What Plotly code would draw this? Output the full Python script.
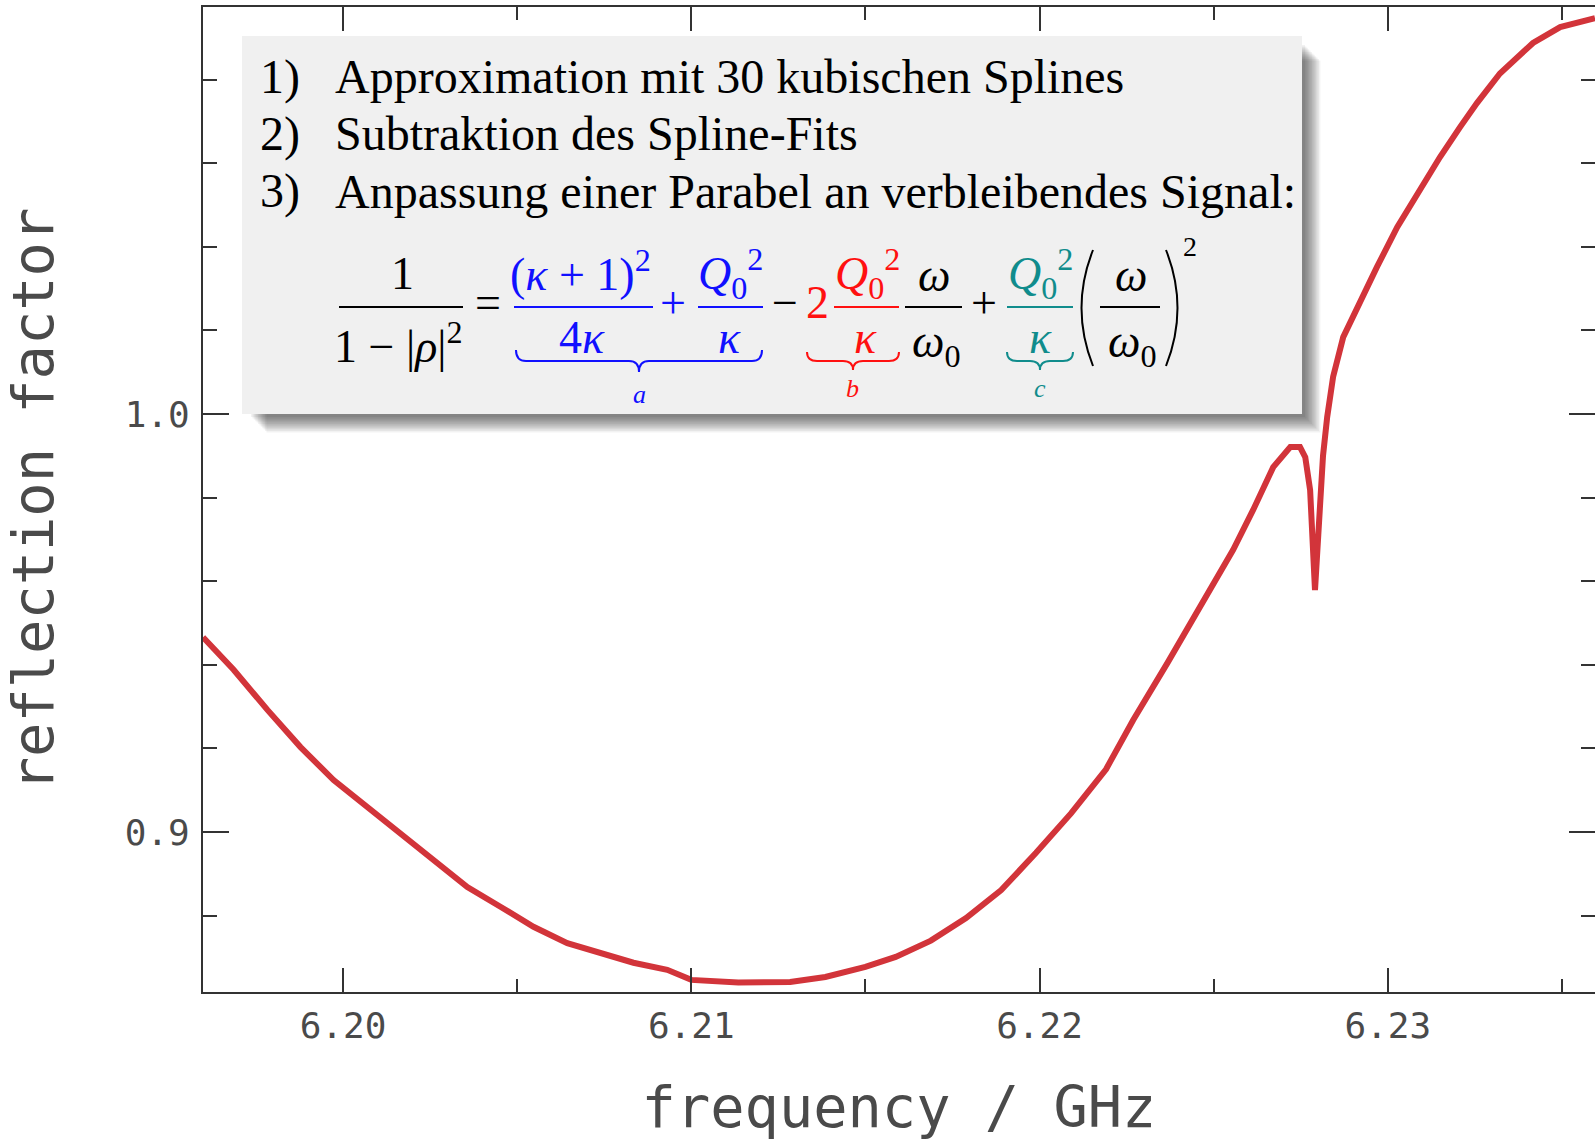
import plotly.graph_objects as go

# ---------------- data ----------------
freq_ghz = [6.19598, 6.19686, 6.19783, 6.19878, 6.19973, 6.20070, 6.20165, 6.20260,
            6.20357, 6.20452, 6.20547, 6.20644, 6.20739, 6.20834, 6.20931, 6.21000,
            6.21135, 6.21284, 6.21385, 6.21500, 6.21587, 6.21688, 6.21789, 6.21890,
            6.21990, 6.22091, 6.22191, 6.22269, 6.22367, 6.22461, 6.22556, 6.22613,
            6.22671, 6.22720, 6.22748, 6.22763, 6.22777, 6.22791, 6.22806, 6.22814,
            6.22826, 6.22843, 6.22872, 6.22921, 6.22969, 6.23027, 6.23084, 6.23150,
            6.23208, 6.23256, 6.23322, 6.23417, 6.23495, 6.23595]
reflection = [0.9466, 0.9388, 0.9292, 0.9203, 0.9124, 0.9060, 0.8998, 0.8933,
              0.8868, 0.8821, 0.8773, 0.8734, 0.8711, 0.8687, 0.8670, 0.8646,
              0.8640, 0.8641, 0.8653, 0.8677, 0.8701, 0.8740, 0.8794, 0.8861,
              0.8950, 0.9045, 0.9150, 0.9268, 0.9404, 0.9538, 0.9675, 0.9770,
              0.9873, 0.9921, 0.9921, 0.9897, 0.9818, 0.9579, 0.9778, 0.9900,
              0.9993, 1.0089, 1.0184, 1.0273, 1.0352, 1.0447, 1.0528, 1.0615,
              1.0687, 1.0744, 1.0815, 1.0888, 1.0926, 1.0947]

x_range = [6.19598, 6.23595]
y_range = [0.8617, 1.0974]
x_tick_step = 0.01
x_minor_step = 0.005
y_tick_step = 0.1
y_minor_step = 0.02

x_title = "frequency / GHz"
y_title = "reflection factor"

steps = ["Approximation mit 30 kubischen Splines",
         "Subtraktion des Spline-Fits",
         "Anpassung einer Parabel an verbleibendes Signal:"]
step_numbers = ["1)", "2)", "3)"]

# ---------------- layout geometry ----------------
FIG_W, FIG_H = 1595, 1140
L, T, R, B = 203, 7, 0, 148
W = FIG_W - L - R
H = FIG_H - T - B

def px(x):
    return (x - L) / W

def py(y):
    return (T + H - y) / H

AX_COLOR = "#333333"
LABEL_COLOR = "#4a4a4a"
MONO = "DejaVu Sans Mono"
SERIF = "Liberation Serif"
BLUE = "#1010ff"
RED = "#ff1010"
TEAL = "#108c8c"

fig = go.Figure()
fig.add_trace(go.Scatter(x=freq_ghz, y=reflection, mode="lines",
                         line=dict(color="#d2343a", width=6),
                         showlegend=False, hoverinfo="skip"))
# empty trace to activate the mirror axes (top ticks / right ticks)
fig.add_trace(go.Scatter(x=[None], y=[None], xaxis="x2", yaxis="y2",
                         showlegend=False, hoverinfo="skip"))

fig.update_layout(
    width=FIG_W, height=FIG_H,
    margin=dict(l=L, r=R, t=T, b=B, pad=0),
    paper_bgcolor="white", plot_bgcolor="white",
    xaxis=dict(range=x_range, dtick=x_tick_step, tick0=6.20, tickformat=".2f",
               showgrid=False, zeroline=False, showline=True, linecolor=AX_COLOR,
               linewidth=2, ticks="inside", ticklen=24, tickwidth=2, tickcolor=AX_COLOR,
               minor=dict(dtick=x_minor_step, tick0=6.20, ticks="inside", ticklen=13,
                          tickwidth=2, tickcolor=AX_COLOR, showgrid=False),
               tickfont=dict(family=MONO, size=36, color=LABEL_COLOR),
               ticklabelstandoff=1,
               title=dict(text=x_title, font=dict(family=MONO, size=57, color=LABEL_COLOR),
                          standoff=50)),
    yaxis=dict(range=y_range, dtick=y_tick_step, tick0=0.9, tickformat=".1f",
               showgrid=False, zeroline=False, showline=True, linecolor=AX_COLOR,
               linewidth=2, ticks="inside", ticklen=26, tickwidth=2, tickcolor=AX_COLOR,
               minor=dict(dtick=y_minor_step, tick0=0.9, ticks="inside", ticklen=14,
                          tickwidth=2, tickcolor=AX_COLOR, showgrid=False),
               tickfont=dict(family=MONO, size=36, color=LABEL_COLOR),
               ticklabelstandoff=4,
               title=dict(text=y_title, font=dict(family=MONO, size=57, color=LABEL_COLOR),
                          standoff=66)),
    xaxis2=dict(overlaying="x", side="top", matches="x", range=x_range,
                dtick=x_tick_step, tick0=6.20, showgrid=False, zeroline=False,
                showline=True, linecolor=AX_COLOR, linewidth=2, ticks="inside",
                ticklen=24, tickwidth=2, tickcolor=AX_COLOR, showticklabels=False,
                minor=dict(dtick=x_minor_step, tick0=6.20, ticks="inside", ticklen=13,
                           tickwidth=2, tickcolor=AX_COLOR, showgrid=False)),
    yaxis2=dict(overlaying="y", side="right", matches="y", range=y_range,
                dtick=y_tick_step, tick0=0.9, showgrid=False, zeroline=False,
                showline=False, ticks="inside", ticklen=26, tickwidth=2,
                tickcolor=AX_COLOR, showticklabels=False,
                minor=dict(dtick=y_minor_step, tick0=0.9, ticks="inside", ticklen=14,
                           tickwidth=2, tickcolor=AX_COLOR, showgrid=False)),
)

shapes = []
# ---- text box with soft shadow ----
BX0, BY0, BX1, BY1 = 242, 36, 1302, 414
for i in range(12):
    off = 3 + i * 1.4
    shapes.append(dict(type="rect", xref="paper", yref="paper",
                       x0=px(BX0 + off + 6), x1=px(BX1 + off),
                       y0=py(BY1 + off), y1=py(BY0 + off + 6),
                       line=dict(width=0), fillcolor="rgba(0,0,0,0.05)", layer="above"))
shapes.append(dict(type="rect", xref="paper", yref="paper",
                   x0=px(BX0), x1=px(BX1), y0=py(BY1), y1=py(BY0),
                   line=dict(width=0), fillcolor="#f0f0f0", layer="above"))

def hline(x0, x1, y, color, width=2):
    shapes.append(dict(type="line", xref="paper", yref="paper",
                       x0=px(x0), x1=px(x1), y0=py(y), y1=py(y),
                       line=dict(color=color, width=width), layer="above"))

def brace(x0, x1, ytop, h, color):
    xm = (x0 + x1) / 2
    r = 10
    ym = ytop + h / 2
    yb = ytop + h
    P = lambda x, y: f"{px(x):.6f},{py(y):.6f}"
    path = (f"M {P(x0, ytop)} Q {P(x0, ym)} {P(x0 + r, ym)} L {P(xm - r, ym)} "
            f"Q {P(xm, ym)} {P(xm, yb)} Q {P(xm, ym)} {P(xm + r, ym)} "
            f"L {P(x1 - r, ym)} Q {P(x1, ym)} {P(x1, ytop)}")
    shapes.append(dict(type="path", xref="paper", yref="paper", path=path,
                       line=dict(color=color, width=2), layer="above"))

def paren(xtop, xmid, ytop, ybot):
    P = lambda x, y: f"{px(x):.6f},{py(y):.6f}"
    path = f"M {P(xtop, ytop)} Q {P(xmid, (ytop + ybot) / 2)} {P(xtop, ybot)}"
    shapes.append(dict(type="path", xref="paper", yref="paper", path=path,
                       line=dict(color="black", width=2), layer="above"))

# fraction bars
hline(339, 463, 307, "black")
hline(514, 653, 307, BLUE)
hline(698, 763, 307, BLUE)
hline(834, 899, 307, RED)
hline(905, 962, 307, "black")
hline(1007, 1073, 307, TEAL)
hline(1100, 1160, 307, "black")
# braces
brace(516, 762, 350, 22, BLUE)
brace(807, 899, 352, 18, RED)
brace(1007, 1073, 352, 18, TEAL)
# big parentheses
paren(1093, 1070, 250, 366)
paren(1166, 1189, 250, 366)

annotations = []

def txt(x, y, s, color="black", size=46, anchor="center", family=SERIF):
    annotations.append(dict(x=px(x), y=py(y), xref="paper", yref="paper", text=s,
                            showarrow=False, xanchor=anchor, yanchor="middle",
                            font=dict(family=family, size=size, color=color)))

# numbered steps
line_y = [77, 134, 191]
for num, s, y in zip(step_numbers, steps, line_y):
    txt(258, y, num, size=48, anchor="left")
    txt(333, y, s, size=48, anchor="left")

# formula
txt(402, 273, "1")
txt(398, 343, "1 − |<i>ρ</i>|<sup>2</sup>")
txt(488, 303, "=")
txt(580, 271, "(<i>κ</i> + 1)<sup>2</sup>", BLUE)
txt(582, 338, "4<i>κ</i>", BLUE)
txt(673, 303, "+", BLUE)
txt(730, 273, "<i>Q</i><sub>0</sub><sup>2</sup>", BLUE)
txt(729, 338, "<i>κ</i>", BLUE)
txt(785, 303, "−")
txt(817, 303, "2", RED)
txt(867, 273, "<i>Q</i><sub>0</sub><sup>2</sup>", RED)
txt(865, 338, "<i>κ</i>", RED)
txt(934, 275, "<i>ω</i>")
txt(936, 345, "<i>ω</i><sub>0</sub>")
txt(984, 303, "+")
txt(1040, 273, "<i>Q</i><sub>0</sub><sup>2</sup>", TEAL)
txt(1040, 338, "<i>κ</i>", TEAL)
txt(1131, 275, "<i>ω</i>")
txt(1132, 345, "<i>ω</i><sub>0</sub>")
txt(1190, 246, "2", size=28)
txt(639, 394, "<i>a</i>", BLUE, size=26)
txt(852, 388, "<i>b</i>", RED, size=26)
txt(1040, 388, "<i>c</i>", TEAL, size=26)

fig.update_layout(shapes=shapes, annotations=annotations)
fig.write_html("out.html")
